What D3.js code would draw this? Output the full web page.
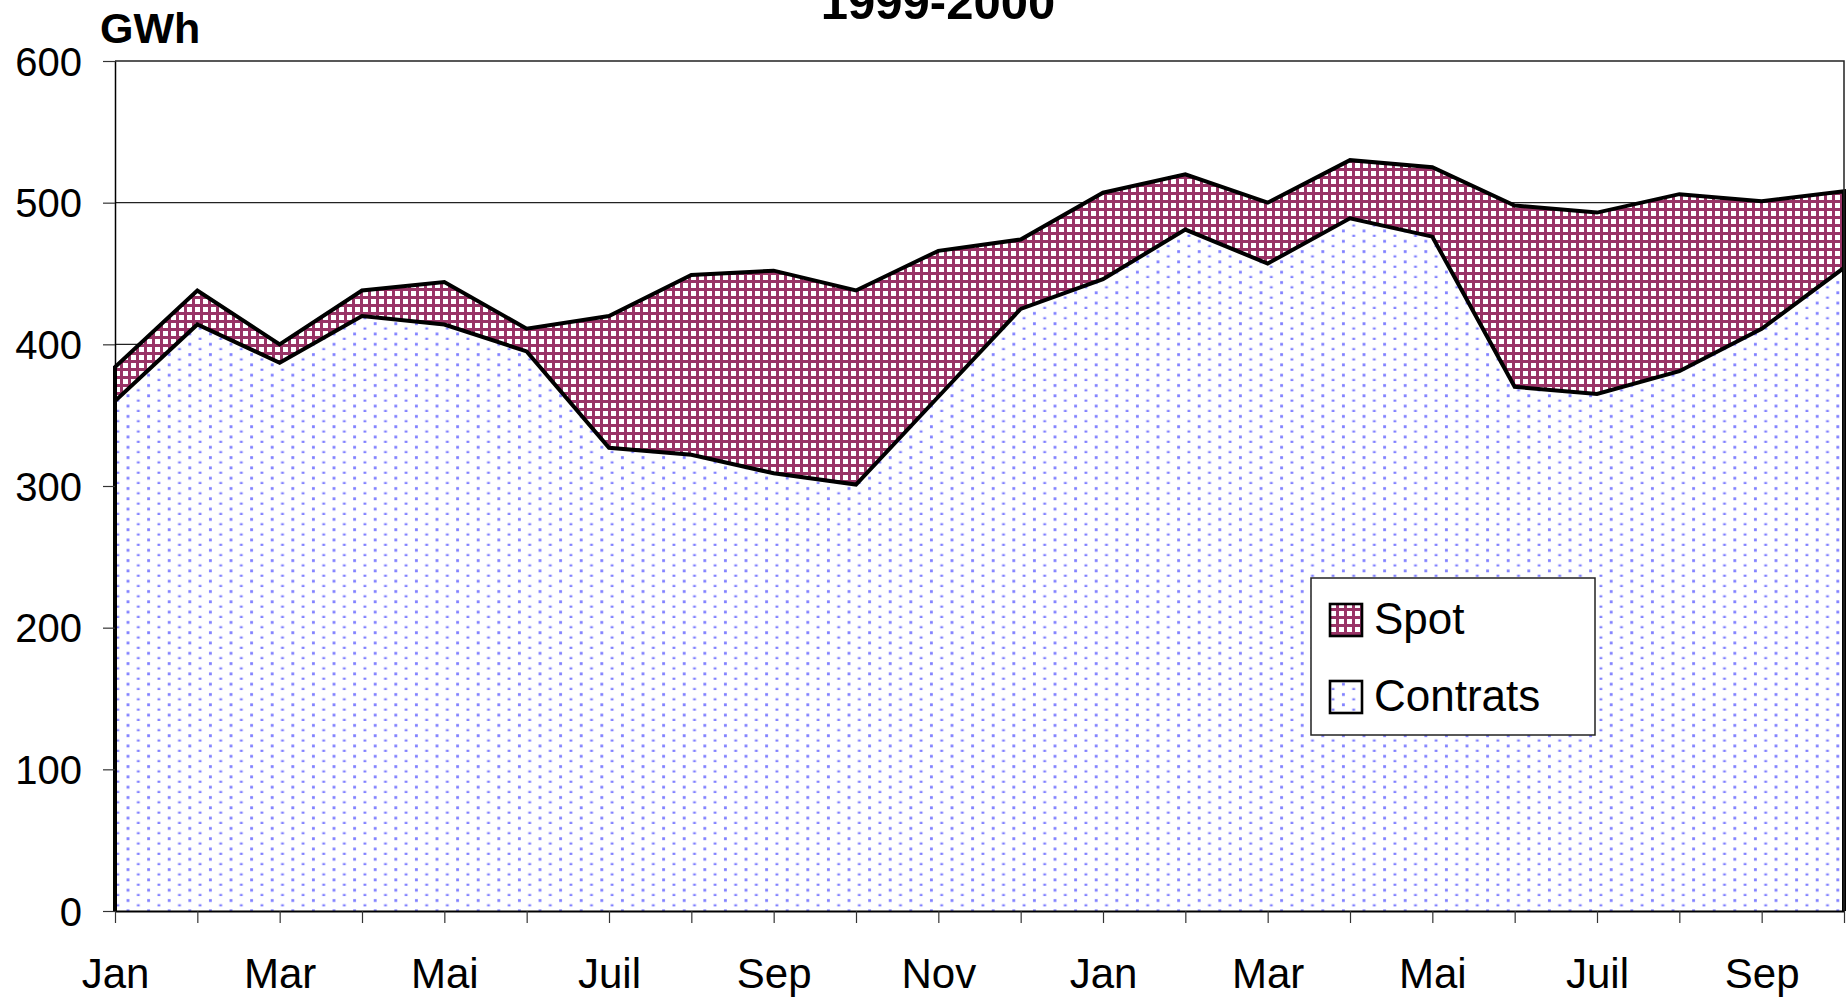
<!DOCTYPE html>
<html>
<head>
<meta charset="utf-8">
<script src="https://cdn.jsdelivr.net/npm/d3@7"></script>
<style>
  html, body { margin: 0; padding: 0; background: #fff; }
  svg { display: block; font-family: "Liberation Sans", Arial, sans-serif; }
</style>
</head>
<body>
<svg id="chart" width="1848" height="999"></svg>
<script>
// ---- data ----
const categories = ["1999-01","1999-02","1999-03","1999-04","1999-05","1999-06","1999-07","1999-08","1999-09","1999-10","1999-11","1999-12",
                    "2000-01","2000-02","2000-03","2000-04","2000-05","2000-06","2000-07","2000-08","2000-09","2000-10"];
const tickLabels = ["Jan","","Mar","","Mai","","Juil","","Sep","","Nov","",
                    "Jan","","Mar","","Mai","","Juil","","Sep",""];
const contrats = [360,414,387,420,414,395,327,322,309,301,363,425,446,481,457,489,476,370,365,381,411,454];
const spot     = [24,24,13,18,30,16,93,127,143,137,103,49,61,39,43,41,49,128,128,125,90,54];
const yTicks = [0,100,200,300,400,500,600];
const seriesNames = ["Contrats","Spot"];
const titleText = "1999-2000";
const unitText = "GWh";

// ---- layout ----
const svg = d3.select("#chart");
const plot = {left: 115, right: 1844, top: 61, bottom: 911};

const x = d3.scalePoint().domain(categories).range([plot.left, plot.right]).padding(0);
const y = d3.scaleLinear().domain([0, 600]).range([plot.bottom, plot.top]);

const table = categories.map((c, i) => ({cat: c, Contrats: contrats[i], Spot: spot[i]}));
const stacked = d3.stack().keys(seriesNames)(table);

// ---- patterns ----
const defs = svg.append("defs");
const hatch = defs.append("pattern").attr("id", "hatch")
  .attr("patternUnits", "userSpaceOnUse").attr("width", 8).attr("height", 8);
hatch.append("rect").attr("width", 8).attr("height", 8).attr("fill", "#fff");
hatch.append("rect").attr("x", 0).attr("y", 0).attr("width", 3).attr("height", 8).attr("fill", "#993366");
hatch.append("rect").attr("x", 0).attr("y", 0).attr("width", 8).attr("height", 3).attr("fill", "#993366");

const dots = defs.append("pattern").attr("id", "dots")
  .attr("patternUnits", "userSpaceOnUse").attr("width", 20.6).attr("height", 10.3);
dots.append("rect").attr("width", 20.6).attr("height", 10.3).attr("fill", "#fff");
dots.append("rect").attr("x", 3).attr("y", 3).attr("width", 2.8).attr("height", 2.8).attr("fill", "#8080ff");
dots.append("rect").attr("x", 13.3).attr("y", 8.15).attr("width", 2.8).attr("height", 2.8).attr("fill", "#8080ff");

const fills = {Contrats: "url(#dots)", Spot: "url(#hatch)"};

svg.append("rect").attr("width", 1848).attr("height", 999).attr("fill", "#fff");

// ---- gridlines ----
svg.append("g").selectAll("line").data(yTicks.filter(t => t > 0 && t < 600)).join("line")
  .attr("x1", plot.left).attr("x2", plot.right)
  .attr("y1", d => y(d)).attr("y2", d => y(d))
  .attr("stroke", "#222").attr("stroke-width", 1.2);

// ---- areas ----
const area = d3.area()
  .x(d => x(d.data.cat))
  .y0(d => y(d[0]))
  .y1(d => y(d[1]));

svg.append("g").selectAll("path").data(stacked).join("path")
  .attr("d", area)
  .attr("fill", d => fills[d.key]);

// ---- outlines (left edge, top line, right edge) ----
const outline = d3.line().x(p => p[0]).y(p => p[1]);
stacked.forEach(s => {
  const pts = [];
  const first = s[0], last = s[s.length - 1];
  pts.push([x(first.data.cat), y(first[0])]);
  s.forEach(d => pts.push([x(d.data.cat), y(d[1])]));
  pts.push([x(last.data.cat), y(last[0])]);
  svg.append("path").attr("d", outline(pts))
    .attr("fill", "none").attr("stroke", "#000")
    .attr("stroke-width", 4).attr("stroke-linejoin", "miter");
});

// ---- plot border (top + right) ----
svg.append("path")
  .attr("d", `M${plot.left},${plot.top}H${plot.right}V${plot.bottom}`)
  .attr("fill", "none").attr("stroke", "#222").attr("stroke-width", 1.5);

// ---- axes ----
const yAxis = d3.axisLeft(y).tickValues(yTicks).tickSize(12).tickPadding(21).tickSizeOuter(0);
const gy = svg.append("g").attr("transform", `translate(${plot.left},0)`).call(yAxis);
gy.select(".domain").attr("stroke", "#000").attr("stroke-width", 1.5);
gy.selectAll(".tick line").attr("stroke", "#333").attr("stroke-width", 1.2);
gy.selectAll(".tick text").attr("font-size", 40).attr("fill", "#000")
  .attr("font-family", "'Liberation Sans', Arial, sans-serif").attr("dy", "0.35em");

const xAxis = d3.axisBottom(x).tickSize(12).tickPadding(35).tickSizeOuter(0)
  .tickFormat((d, i) => tickLabels[i]);
const gx = svg.append("g").attr("transform", `translate(0,${plot.bottom})`).call(xAxis);
gx.select(".domain").attr("stroke", "#000").attr("stroke-width", 2);
gx.selectAll(".tick line").attr("stroke", "#333").attr("stroke-width", 1.2);
gx.selectAll(".tick text").attr("font-size", 42).attr("fill", "#000")
  .attr("font-family", "'Liberation Sans', Arial, sans-serif");

// ---- title and unit ----
svg.append("text").attr("x", 938).attr("y", 19).attr("text-anchor", "middle")
  .attr("font-size", 49).attr("font-weight", "bold").attr("fill", "#000").text(titleText);
svg.append("text").attr("x", 100).attr("y", 43)
  .attr("font-size", 43).attr("font-weight", "bold").attr("fill", "#000").text(unitText);

// ---- legend ----
const legend = svg.append("g");
legend.append("rect").attr("x", 1311).attr("y", 578).attr("width", 284).attr("height", 157)
  .attr("fill", "#fff").attr("stroke", "#222").attr("stroke-width", 1.5);
const legendItems = ["Spot", "Contrats"];
legendItems.forEach((name, i) => {
  const top = 604 + i * 77;
  legend.append("rect").attr("x", 1330).attr("y", top).attr("width", 32).attr("height", 32)
    .attr("fill", fills[name]).attr("stroke", "#000").attr("stroke-width", 2.6);
  legend.append("text").attr("x", 1374).attr("y", top + 29.5)
    .attr("font-size", 44).attr("fill", "#000").text(name);
});
</script>
</body>
</html>
